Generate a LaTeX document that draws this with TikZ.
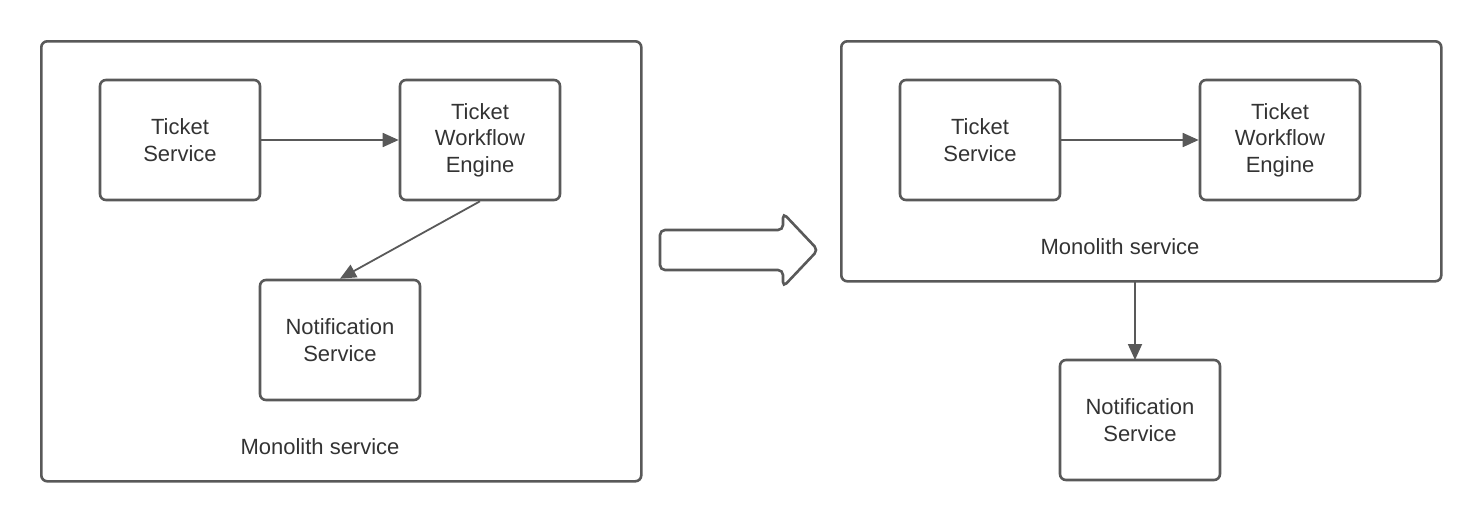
\documentclass[tikz,border=0pt]{standalone}
\usepackage{fontspec}
\setmainfont{Liberation Sans}
\usetikzlibrary{arrows.meta,positioning}
\definecolor{linegray}{HTML}{595959}
\definecolor{textgray}{HTML}{333333}
\tikzset
{
    service/.style = {rectangle, rounded corners=3pt, draw=linegray, line width=1.3pt, minimum width=80pt, minimum height=60pt, align=center, text=textgray, font=\fontsize{11}{13.3}\selectfont},
    monolith/.style = {rectangle, rounded corners=3pt, draw=linegray, line width=1.3pt, minimum width=300pt, anchor=north west},
    caption/.style = {text=textgray, font=\fontsize{11}{13.3}\selectfont},
    arrow/.style = {draw=linegray, line width=0.9pt, -{Triangle[length=8pt,width=7pt]}},
    bigarrow/.style = {draw=linegray, line width=1.3pt, rounded corners=2.5pt}
}

\begin{document}
\begin{tikzpicture}[x=0.5pt, y=-0.5pt]
	 \useasboundingbox (0,0) rectangle (1480,520);

	 % before
	 \node (mla)  [monolith, minimum height=220pt] at (40, 40)   {};
	 \node (tsa)  [service]                        at (180, 140) {Ticket\\Service};
	 \node (twa)  [service]                        at (480, 140) {Ticket\\Workflow\\Engine};
	 \node (nsa)  [service]                        at (340, 340) {Notification\\Service};
	 \node (cpa)  [caption]                        at (320, 447) {Monolith service};

	 % after
	 \node (mlb)  [monolith, minimum height=120pt] at (840, 40)   {};
	 \node (tsb)  [service]                        at (980, 140)  {Ticket\\Service};
	 \node (twb)  [service]                        at (1280, 140) {Ticket\\Workflow\\Engine};
	 \node (nsb)  [service]                        at (1140, 420) {Notification\\Service};
	 \node (cpb)  [caption]                        at (1120, 247) {Monolith service};
	 \coordinate (mlbout) at (1135, 280);
	 \coordinate (nsbin)  at (1135, 360);

	 % big arrow
	 \draw[bigarrow] (660,230) -- (783,230) -- (783,213) -- (818,250) -- (783,287) -- (783,270) -- (660,270) -- cycle;

	 \path
	    (tsa)         edge[arrow] (twa)
	    (twa.south)   edge[arrow] (nsa.north)
	    (tsb)         edge[arrow] (twb)
	    (mlbout)      edge[arrow] (nsbin);
\end{tikzpicture}
\end{document}
